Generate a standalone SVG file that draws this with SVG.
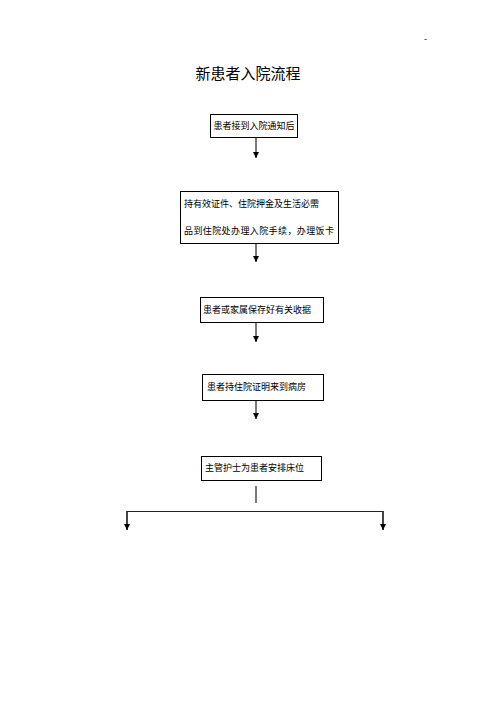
<svg xmlns="http://www.w3.org/2000/svg" width="496" height="702" viewBox="0 0 496 702">
<style>
.box{fill:#fff;stroke:#000;stroke-width:1}
.t{font-family:"Noto Sans CJK SC","Liberation Sans",sans-serif;font-size:9px;fill:#000}
.ln{stroke:#222;stroke-width:1.2;fill:none}
</style>
<defs>
<marker id="ah" viewBox="0 0 6 6" refX="6" refY="3" markerWidth="6" markerHeight="6" orient="auto" markerUnits="userSpaceOnUse">
<path d="M0,0 L6,3 L0,6 z" fill="#000"/>
</marker>
</defs>
<rect width="496" height="702" fill="#fff"/>
<text x="424" y="42" class="t" font-size="9">-</text>
<text x="248" y="79" text-anchor="middle" style="font-family:'Noto Sans CJK SC',sans-serif;font-size:15px">新患者入院流程</text>
<g id="n1"><rect class="box" x="210.5" y="114.5" width="87" height="23"/><text class="t" x="254" y="129" text-anchor="middle">患者接到入院通知后</text></g>
<g id="n2"><rect class="box" x="180.5" y="191.5" width="158" height="52"/><text class="t" x="184" y="207">持有效证件、住院押金及生活必需</text><text class="t" x="184" y="234" textLength="150">品到住院处办理入院手续，办理饭卡</text></g>
<g id="n3"><rect class="box" x="200.5" y="297.5" width="123" height="25"/><text class="t" x="203" y="313">患者或家属保存好有关收据</text></g>
<g id="n4"><rect class="box" x="202.5" y="374.5" width="121" height="26"/><text class="t" x="207" y="390">患者持住院证明来到病房</text></g>
<g id="n5"><rect class="box" x="201.5" y="456.5" width="120" height="24"/><text class="t" x="205" y="471">主管护士为患者安排床位</text></g>
<g id="edges">
<line class="ln" x1="256" y1="138" x2="256" y2="158" marker-end="url(#ah)"/>
<line class="ln" x1="256" y1="244" x2="256" y2="262" marker-end="url(#ah)"/>
<line class="ln" x1="256" y1="323" x2="256" y2="342" marker-end="url(#ah)"/>
<line class="ln" x1="256" y1="401" x2="256" y2="419" marker-end="url(#ah)"/>
<line class="ln" x1="256" y1="486" x2="256" y2="503"/>
<polyline class="ln" points="127,530 127,511.5 383,511.5 383,530"/>
<line class="ln" x1="127" y1="511" x2="127" y2="530" marker-end="url(#ah)"/>
<line class="ln" x1="383" y1="511" x2="383" y2="530" marker-end="url(#ah)"/>
</g>
</svg>
